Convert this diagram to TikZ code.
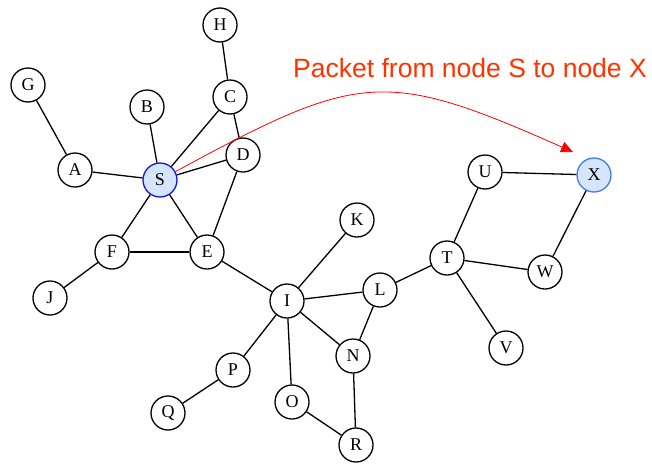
\documentclass[tikz,border=0pt]{standalone}
\usepackage{fontspec}
\setmainfont{Liberation Serif}
\newfontfamily\labelfont{Liberation Sans}
\usetikzlibrary{arrows.meta}

\begin{document}
\begin{tikzpicture}[x=1pt,y=-1pt,
	vertex/.style={circle,draw,line width=1.3pt,minimum size=34pt,inner sep=0pt,font=\fontsize{18}{19}\selectfont},
	source/.style={vertex,draw=srcblue,fill=nodeblue},
	target/.style={vertex,draw=dstblue,fill=nodeblue},
	link/.style={line width=1.3pt},
	packet/.style={red,line width=0.8pt,-{Triangle[length=12pt,width=11pt]}}]
	\definecolor{nodeblue}{RGB}{213,229,251}
	\definecolor{srcblue}{RGB}{20,20,240}
	\definecolor{dstblue}{RGB}{70,120,235}
	\definecolor{packetred}{RGB}{255,51,0}

	\useasboundingbox (0,0) rectangle (652,466);

	% nodes
	\node[vertex] (H) at (220,25) {H};
	\node[vertex] (G) at (28,85) {G};
	\node[vertex] (B) at (147,107) {B};
	\node[vertex] (C) at (230,97) {C};
	\node[vertex] (D) at (243,155) {D};
	\node[vertex] (A) at (75,170) {A};
	\node[source] (S) at (160,180) {S};
	\node[vertex] (U) at (485,172) {U};
	\node[target] (X) at (594,175) {X};
	\node[vertex] (K) at (357,220) {K};
	\node[vertex] (F) at (112,252) {F};
	\node[vertex] (E) at (207,252) {E};
	\node[vertex] (T) at (447,258) {T};
	\node[vertex] (W) at (545,272) {W};
	\node[vertex] (J) at (50,298) {J};
	\node[vertex] (I) at (287,301) {I};
	\node[vertex] (L) at (380,290) {L};
	\node[vertex] (V) at (506,348) {V};
	\node[vertex] (N) at (353,356) {N};
	\node[vertex] (P) at (233,370) {P};
	\node[vertex] (O) at (292,402) {O};
	\node[vertex] (Q) at (168,413) {Q};
	\node[vertex] (R) at (356,445) {R};

	% links
	\foreach \a/\b in {H/C,G/A,A/S,B/S,C/S,C/D,D/S,D/E,S/E,S/F,F/E,F/J,
		E/I,I/K,I/L,I/N,I/P,I/O,L/N,L/T,N/R,O/R,P/Q,T/U,T/W,T/V,U/X,X/W}
		\draw[link] (\a) -- (\b);

	% packet
	\coordinate (tip) at (573,152);
	\draw[packet] (S) .. controls (359,72) and (384,68) .. (tip);
	\node[packetred,font=\labelfont\fontsize{26.5}{28}\selectfont] (caption) at (470,68) {Packet from node S to node X};
\end{tikzpicture}
\end{document}
